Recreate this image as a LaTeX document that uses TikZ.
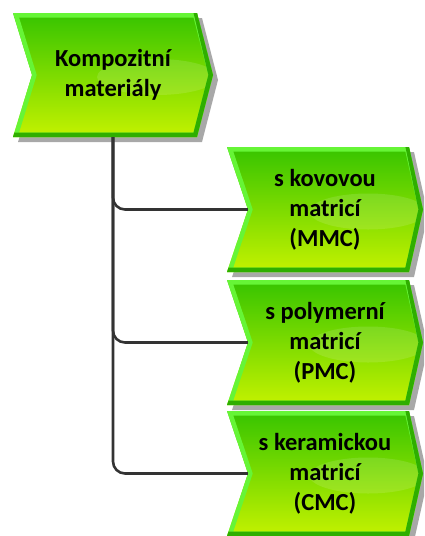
\documentclass[tikz,border=0pt]{standalone}
\usepackage{fontspec}
\setmainfont{Carlito}
\definecolor{gtop}{HTML}{36C400}
\definecolor{gmid}{HTML}{7EDC00}
\definecolor{gbot}{HTML}{C4F200}
\definecolor{rimlight}{HTML}{66F536}
\definecolor{rimdark}{HTML}{2FAE00}
\definecolor{shadowgray}{HTML}{A8A8A8}
\definecolor{connc}{HTML}{333333}
\tikzset{
  boxtext/.style={inner sep=0pt, align=center, font=\bfseries\fontsize{24.5}{30}\selectfont, text=black},
  conn/.style={draw=connc, line width=2.6pt, rounded corners=12pt},
}
% #1 name, #2 x0, #3 y0, #4 x1, #5 y1, #6 notch, #7 point, #8 text
\newcommand\chevbox[8]{%
  \pgfmathsetmacro\yc{(#3+#5)/2}%
  \fill[shadowgray] ({#2+5},{#3+5}) -- ({#4-#7+5},{#3+5}) -- ({#4+5},{\yc+5}) -- ({#4-#7+5},{#5+5}) -- ({#2+5},{#5+5}) -- ({#2+#6+5},{\yc+5}) -- cycle;
  \begin{scope}
    \clip (#2,#3) -- ({#4-#7},#3) -- (#4,\yc) -- ({#4-#7},#5) -- (#2,#5) -- ({#2+#6},\yc) -- cycle;
    \shade[top color=gtop, middle color=gmid, bottom color=gbot] (#2,#3) rectangle (#4,#5);
    \fill[white, opacity=0.12] ({#2+0.72*(#4-#2)},{\yc+2}) ellipse ({0.3*(#4-#2)} and 18);
    \draw[rimlight, line width=9pt, line join=miter] (#2,#3) -- ({#4-#7},#3) -- (#4,\yc) -- ({#4-#7},#5) -- (#2,#5) -- ({#2+#6},\yc) -- cycle;
    \draw[rimdark, line width=9pt, line join=miter] ({#4-#7},{#3-5}) -- (#4,\yc) -- ({#4-#7},#5) -- (#2,#5);
  \end{scope}
  \node[boxtext, minimum width={(#4-#2)*1pt}, minimum height={(#5-#3)*1pt}] (#1) at ({(#2+#4)/2},\yc) {#8};
}
\begin{document}
\begin{tikzpicture}[x=1pt,y=-1pt]
  \useasboundingbox (0,0) rectangle (424,536);
  \begin{scope}
    \clip (0,0) rectangle (424,536);
    \chevbox{top}{13}{13}{213}{137}{19}{16}{Kompozitní\\materiály}
    \chevbox{mmc}{227}{147}{423}{272}{21}{14}{s kovovou\\matricí\\(MMC)}
    \chevbox{pmc}{227}{280}{423}{405}{21}{14}{s polymerní\\matricí\\(PMC)}
    \chevbox{cmc}{227}{411}{423}{536}{21}{14}{s keramickou\\matricí\\(CMC)}
    \draw[conn] (top.south) |- ([xshift=21pt]mmc.west);
    \draw[conn] (top.south) |- ([xshift=21pt]pmc.west);
    \draw[conn] (top.south) |- ([xshift=21pt]cmc.west);
  \end{scope}
\end{tikzpicture}
\end{document}
